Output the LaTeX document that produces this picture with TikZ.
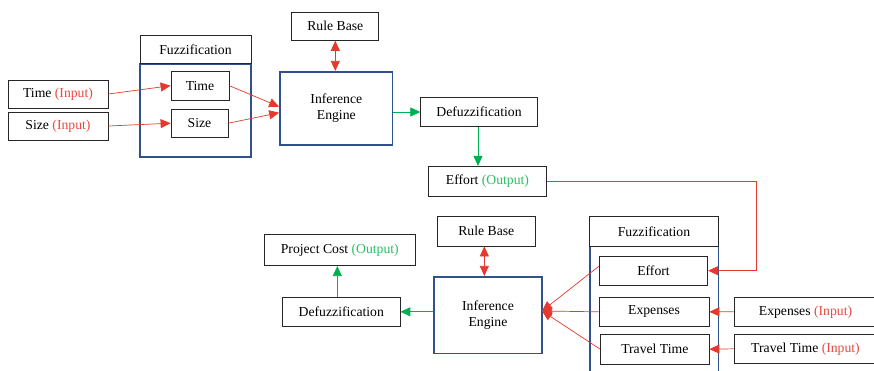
\documentclass[tikz,border=0pt]{standalone}
\usepackage{fontspec}
\setmainfont{Liberation Serif}
\usetikzlibrary{arrows.meta}
\definecolor{lred}{RGB}{229,57,45}
\definecolor{tred}{RGB}{232,74,64}
\definecolor{lgreen}{RGB}{0,176,80}
\definecolor{tgreen}{RGB}{44,190,100}
\definecolor{bblue}{RGB}{47,82,143}
\begin{document}
\begin{tikzpicture}[x=1pt,y=-1pt,
  box/.style={draw=black!85, line width=0.8pt, inner sep=0pt, fill=white,
    font=\fontsize{13.7}{16}\selectfont, align=center},
  bluebox/.style={draw=bblue, line width=1.6pt, inner sep=0pt},
  redarr/.style={draw=lred, line width=0.7pt, -{Triangle[length=10pt,width=9pt]}},
  redboth/.style={draw=lred, line width=0.7pt, {Triangle[length=10pt,width=9pt]}-{Triangle[length=10pt,width=9pt]}},
  greenarr/.style={draw=lgreen, line width=0.8pt, -{Triangle[length=10pt,width=9pt]}}]
\useasboundingbox (0,0) rectangle (874,370);
\fill[white] (0,0) rectangle (874,370);

% ---------- upper system ----------
\node[bluebox, minimum width=111pt, minimum height=93pt] (fz1b) at (195.5,110.2) {};
\node[box, minimum width=111pt, minimum height=28.3pt] (fz1h) at (195.5,49.6) {Fuzzification};
\node[box, minimum width=100pt, minimum height=28pt] (tin) at (58,94) {Time \textcolor{tred}{(Input)}};
\node[box, minimum width=100pt, minimum height=28pt] (sin) at (58,126) {Size \textcolor{tred}{(Input)}};
\node[box, minimum width=58pt, minimum height=28.7pt] (tfz) at (200,85.7) {Time};
\node[box, minimum width=57pt, minimum height=28.3pt] (sfz) at (199.5,123.2) {Size};
\node[box, minimum width=87pt, minimum height=28.3pt] (rb1) at (335.3,26.2) {Rule Base};
\node[box, draw=bblue, line width=1.6pt, minimum width=112.7pt, minimum height=73pt] (ie1) at (336.3,108.2) {Inference\\Engine};
\node[box, minimum width=116.6pt, minimum height=28.6pt] (df1) at (479,112) {Defuzzification};
\node[box, minimum width=118.4pt, minimum height=29.7pt] (eo) at (487.5,181.2) {Effort \textcolor{tgreen}{(Output)}};

\draw[redarr] (tin.east) -- (tfz.west);
\draw[redarr] (sin.east) -- (sfz.west);
\draw[redarr] (tfz.east) -- ([yshift=1.5pt]ie1.west);
\draw[redarr] (sfz.east) -- ([yshift=-4.5pt]ie1.west);
\draw[redboth] (rb1.south) -- (rb1.south |- ie1.north);
\draw[greenarr] (ie1.east |- df1.west) -- (df1.west);
\draw[greenarr] ([xshift=-1pt]df1.south) -- ([xshift=-1pt]df1.south |- eo.north);

% ---------- lower system ----------
\node[bluebox, minimum width=128.6pt, minimum height=134pt] (fz2b) at (654,313.3) {};
\node[box, minimum width=128.6pt, minimum height=29.6pt] (fz2h) at (654,231.5) {Fuzzification};
\node[box, minimum width=108.4pt, minimum height=29.3pt] (eff) at (653.5,270.7) {Effort};
\node[box, minimum width=110pt, minimum height=29.7pt] (exp) at (654,311.8) {Expenses};
\node[box, minimum width=108.3pt, minimum height=29.7pt] (ttm) at (654.8,349.2) {Travel Time};
\node[box, minimum width=143pt, minimum height=28.7pt] (expin) at (805.5,311.7) {Expenses \textcolor{tred}{(Input)}};
\node[box, minimum width=143pt, minimum height=29pt] (ttin) at (805.5,348.8) {Travel Time \textcolor{tred}{(Input)}};
\node[box, minimum width=97.3pt, minimum height=29.3pt] (rb2) at (486.3,231.3) {Rule Base};
\node[box, draw=bblue, line width=1.6pt, minimum width=108pt, minimum height=76.6pt] (ie2) at (488,315) {Inference\\Engine};
\node[box, minimum width=117.3pt, minimum height=29.7pt] (df2) at (341.3,311.8) {Defuzzification};
\node[box, minimum width=151.7pt, minimum height=31.7pt] (pc) at (339.8,249.8) {Project Cost \textcolor{tgreen}{(Output)}};
\coordinate (iep) at (542,311);
\coordinate (fb) at (756,181.2);

\draw[redarr] (eo.east) -- (fb) |- (eff.east);
\draw[redarr] (expin.west) -- (exp.east);
\draw[redarr] (ttin.west) -- (ttm.east);
\draw[redarr] ([yshift=4.5pt]eff.west) -- (iep);
\draw[redarr] (exp.west) -- (iep);
\draw[redarr] (ttm.west) -- (iep);
\draw[redboth] ([xshift=-2pt]rb2.south) -- ([xshift=-2pt]rb2.south |- ie2.north);
\draw[greenarr] (ie2.west |- df2.east) -- (df2.east);
\draw[greenarr] ([xshift=-4pt]df2.north) -- ([xshift=-4pt]df2.north |- pc.south);
\end{tikzpicture}
\end{document}
